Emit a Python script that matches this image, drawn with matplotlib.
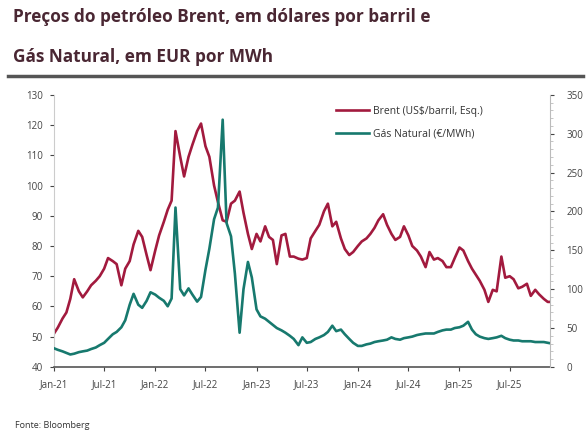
import pandas as pd
import matplotlib.pyplot as plt
from matplotlib.lines import Line2D
from matplotlib.ticker import MultipleLocator

# semi-monthly closes, Jan 2021 - Nov 2025
dates = pd.date_range("2021-01-01", periods=119, freq="SMS")

brent = [
    51, 53, 56, 58, 62.5, 69, 65, 63, 65, 67,
    68.5, 70, 72.5, 76, 75, 74, 67, 72.5, 75, 80.5,
    85, 83, 77, 72, 78.5, 83.5, 88, 92, 95, 118,
    109.5, 103, 109.5, 113.5, 118, 120.5, 113, 109.5, 100, 94.5,
    88.5, 88, 94, 95, 98, 91, 84, 79, 84, 81.5,
    86.5, 83, 82, 74, 83.5, 84, 76.5, 76.5, 75.8, 75.5,
    76, 82.5, 85, 87, 91.5, 94, 86.5, 88, 82.5, 79,
    77, 78, 80, 81.5, 82.5, 84, 86, 88.5, 90.5, 87,
    84, 82, 83, 86.5, 83.5, 80, 78.5, 76.5, 73, 78,
    75.5, 76, 75, 73, 73, 76, 79.5, 78.5, 75, 72.5,
    70.5, 68.5, 65.5, 61.5, 65.5, 65, 76.5, 69.5, 70, 69,
    66, 66.5, 67.5, 63.5, 65.5, 64, 62.5, 61.5, 61.5,
]

gas = [
    24, 22, 20, 18, 16, 17, 19, 20, 21, 23,
    25, 28, 31, 36, 42, 45, 51, 60, 80, 94,
    80, 76, 85, 96, 93, 89, 85, 78, 88, 205,
    100, 92, 101, 93, 84, 90, 125, 152, 190, 205,
    318, 185, 168, 120, 44, 100, 135, 115, 74, 65,
    62, 58, 54, 50, 47, 44, 40, 36, 28, 38,
    31, 32, 36, 38, 41, 45, 53, 46, 48, 42,
    36, 31, 27, 27, 29, 30, 32, 33, 34, 35,
    38, 36, 35, 37, 38, 39, 41, 42, 43, 43,
    43, 45, 47, 48, 48, 50, 51, 53, 58, 48,
    42, 39, 37, 36, 37, 38, 40, 37, 35, 34,
    34, 33, 33, 33, 32, 32, 32, 31, 30,
]

tick_dates = pd.date_range("2021-01-01", "2025-07-01", freq="6MS")
tick_labels = [d.strftime("%b-%y") for d in tick_dates]

brent_color = "#a21a3e"
gas_color = "#17796e"
grey = "#555555"

plt.rcParams["font.family"] = ["Open Sans", "DejaVu Sans"]

fig = plt.figure(figsize=(5.86, 4.41), dpi=100)
fig.patch.set_facecolor("white")

ax = fig.add_axes([0.092, 0.168, 0.846, 0.617])
ax2 = ax.twinx()

l1, = ax.plot(dates, brent, color=brent_color, lw=1.9, label="Brent (US$/barril, Esq.)")
l2, = ax2.plot(dates, gas, color=gas_color, lw=1.9, label="Gás Natural (€/MWh)")

ax.set_ylim(40, 130)
ax.yaxis.set_major_locator(MultipleLocator(10))
ax2.set_ylim(0, 350)
ax2.yaxis.set_major_locator(MultipleLocator(50))
ax2.yaxis.set_minor_locator(MultipleLocator(10))

ax.set_xlim(pd.Timestamp("2021-01-06"), pd.Timestamp("2025-11-22"))
ax.set_xticks(tick_dates)
ax.set_xticklabels(tick_labels)

for a in (ax, ax2):
    a.spines["top"].set_visible(False)
    a.tick_params(labelsize=7, colors="#444444", length=3, width=0.8)
ax.spines["right"].set_visible(False)
ax2.spines["left"].set_visible(False)
ax.spines["left"].set_color("#cccccc")
ax2.spines["right"].set_color("#bbbbbb")
ax.spines["bottom"].set_color(grey)
ax.spines["bottom"].set_linewidth(1.2)
ax2.spines["bottom"].set_visible(False)
ax.tick_params(axis="x", pad=6)
ax2.tick_params(axis="y", which="minor", length=2, color="#bbbbbb")
ax2.tick_params(axis="y", labelsize=7, pad=9)
ax.tick_params(axis="y", pad=5)

ax.legend(handles=[l1, l2], loc="upper left", bbox_to_anchor=(0.56, 0.975),
          borderaxespad=0, frameon=False, fontsize=7.5, handlelength=3.2,
          handletextpad=0.4, labelspacing=1.1, labelcolor="#333333")

# title block and rule
title_color = "#4a2733"
fig.text(0.022, 0.962, "Preços do petróleo Brent, em dólares por barril e",
         fontsize=12.4, fontweight="bold", color=title_color, va="center")
fig.text(0.022, 0.870, "Gás Natural, em EUR por MWh",
         fontsize=12.4, fontweight="bold", color=title_color, va="center")
fig.add_artist(Line2D([0.014, 0.995], [0.828, 0.828], color=grey, lw=2.5,
                      transform=fig.transFigure))

fig.text(0.025, 0.03, "Fonte: Bloomberg", fontsize=6.5, color="#333333")

fig.savefig("out.png", dpi=100)
